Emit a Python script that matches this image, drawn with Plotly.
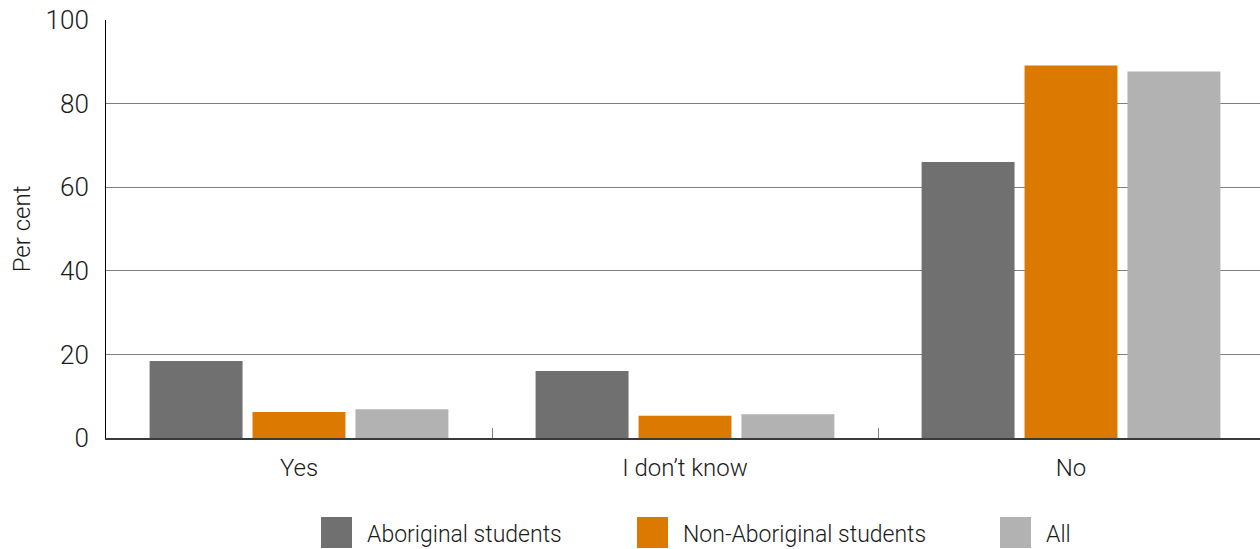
import plotly.graph_objects as go

categories = ["Yes", "I don\u2019t know", "No"]
series_names = ["Aboriginal students", "Non-Aboriginal students", "All"]
aboriginal = [18.4, 16.0, 66.0]
non_aboriginal = [6.2, 5.3, 89.1]
all_students = [6.9, 5.7, 87.7]
y_ticks = [0, 20, 40, 60, 80, 100]

colors = ["#707070", "#DC7900", "#B2B2B2"]
FONT = "Roboto, Liberation Sans Narrow, Arial, sans-serif"

W, H = 1260, 549
L, R, T, B = 106, 0, 20, 111
PW, PH = W - L - R, H - T - B
CAT_PX = 386  # pixel width of one category band in the reference


def px_x(x):
    return (x - L) / PW


def px_y(y):
    return (H - B - y) / PH


fig = go.Figure()
for name, vals, c in zip(series_names, [aboriginal, non_aboriginal, all_students], colors):
    fig.add_trace(go.Bar(x=categories, y=vals, name=name, showlegend=False,
                         marker=dict(color=c, line=dict(width=0))))

# manual legend (large square swatches as in the reference)
legend_x = [321, 637, 1000]
shapes, annotations = [], []
for name, c, lx in zip(series_names, colors, legend_x):
    shapes.append(dict(type="rect", xref="paper", yref="paper",
                       x0=px_x(lx), x1=px_x(lx + 31), y0=px_y(548), y1=px_y(517),
                       fillcolor=c, line=dict(width=0), layer="above"))
    annotations.append(dict(xref="paper", yref="paper", x=px_x(lx + 44), y=px_y(534),
                            xanchor="left", yanchor="middle", text=name, showarrow=False,
                            font=dict(family=FONT, size=23, color="#1a1a1a", weight=300)))

fig.update_layout(
    barmode="group",
    bargap=0.2,
    bargroupgap=0.097,
    width=W, height=H,
    margin=dict(l=L, r=R, t=T, b=B, autoexpand=False),
    plot_bgcolor="white", paper_bgcolor="white",
    font=dict(family=FONT, size=22, color="#1a1a1a", weight=300),
    showlegend=False,
    shapes=shapes,
    annotations=annotations,
)
fig.update_xaxes(
    range=[-0.5, -0.5 + PW / CAT_PX],
    showline=True, linecolor="#3a3a3a", linewidth=2,
    tickson="boundaries", ticks="inside", ticklen=10, tickcolor="#808080", tickwidth=1,
    showgrid=False, ticklabelstandoff=7, automargin=False,
    tickfont=dict(size=24, weight=300),
)
fig.update_yaxes(
    range=[0, 100], tickvals=y_ticks, showgrid=True, gridcolor="#7f7f7f", gridwidth=1,
    showline=True, linecolor="#000000", linewidth=1, zeroline=False,
    ticks="", ticklabelstandoff=11, automargin=False,
    tickfont=dict(size=26, weight=300),
    title=dict(text="Per cent", font=dict(size=24, weight=300), standoff=8),
)
fig.write_html("out.html")
